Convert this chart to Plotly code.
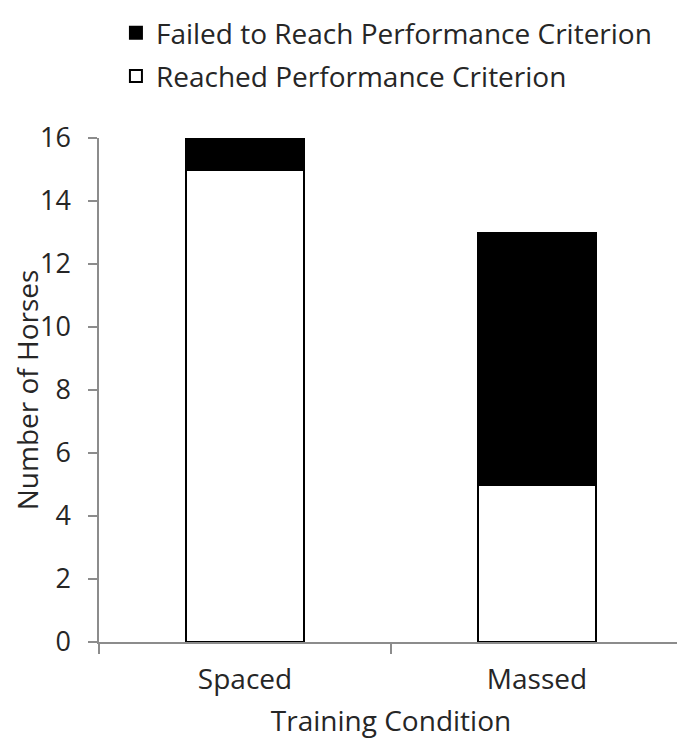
import plotly.graph_objects as go

categories = ["Spaced", "Massed"]
reached = [15, 5]
failed = [1, 8]
y_ticks = [0, 2, 4, 6, 8, 10, 12, 14, 16]

FONT = "Open Sans"
TXT = "#262626"
AX = "#8c8c8c"

fig = go.Figure()
fig.add_trace(go.Bar(
    x=categories, y=reached, name="Reached Performance Criterion",
    marker=dict(color="white", line=dict(color="black", width=2)),
    width=0.404, legendgroup="r", legendrank=2,
))
fig.add_trace(go.Bar(
    x=categories, y=failed, name="Failed to Reach Performance Criterion",
    marker=dict(color="black", line=dict(color="black", width=2)),
    width=0.404, legendgroup="f", legendrank=1,
))

fig.update_layout(
    barmode="stack",
    width=677, height=737,
    margin=dict(l=91, r=2, t=130, b=103),
    plot_bgcolor="white", paper_bgcolor="white",
    font=dict(family=FONT, size=24, color=TXT),
    showlegend=True,
    legend=dict(
        xref="paper", yref="container",
        x=0.029, y=1.0, xanchor="left", yanchor="top",
        traceorder="grouped", tracegroupgap=4,
        font=dict(family=FONT, size=28, color=TXT),
        bgcolor="rgba(0,0,0,0)",
    ),
    xaxis=dict(
        type="category", tickson="boundaries",
        range=[-0.5, 1.5], automargin=False,
        showline=True, linecolor=AX, linewidth=1.5,
        ticks="outside", ticklen=10, tickcolor=AX, tickwidth=1.5,
        tickfont=dict(size=28, color=TXT), tickangle=0,
        ticklabelstandoff=12,
        title=dict(text="Training Condition", font=dict(size=28, color=TXT)),
        showgrid=False, zeroline=False,
    ),
    yaxis=dict(
        range=[0, 16], tickvals=y_ticks, automargin=False,
        showline=True, linecolor=AX, linewidth=1.5,
        ticks="outside", ticklen=9, tickcolor=AX, tickwidth=1.5,
        tickfont=dict(size=27, color=TXT),
        ticklabelstandoff=12,
        title=dict(text="Number of Horses", font=dict(size=28, color=TXT)),
        showgrid=False, zeroline=False,
    ),
)

fig.write_html("out.html")
